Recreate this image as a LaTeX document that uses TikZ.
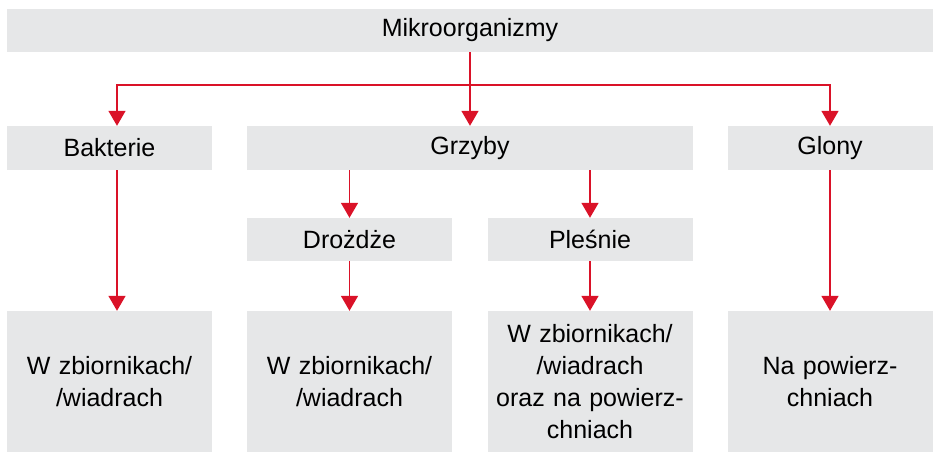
\documentclass[tikz,border=0pt]{standalone}
\usepackage{fontspec}
\setmainfont{Liberation Sans}
\usetikzlibrary{arrows.meta}
\definecolor{ArrowRed}{RGB}{218,18,40}
\definecolor{BoxGrey}{RGB}{230,231,232}
\colorlet{ColourLink}{ArrowRed}
\colorlet{ColourBox}{BoxGrey}
\tikzset{
  box/.style={
    fill=ColourBox,
    inner sep=0pt,
    align=center,
    font=\fontsize{25}{32}\selectfont,
  },
  wide box/.style={
    box,
    minimum width=926pt,
    minimum height=43pt,
  },
  mid box/.style={
    box,
    minimum width=446pt,
    minimum height=44pt,
  },
  small box/.style={
    box,
    minimum width=205pt,
    minimum height=44pt,
  },
  low box/.style={
    box,
    text width=200pt,
    minimum width=205pt,
    minimum height=141pt,
  },
  link/.style={
    draw=ColourLink,
    line width=1.6pt,
  },
  arrow link/.style={
    link,
    -{Triangle[width=17pt,length=15pt]},
  },
}

\begin{document}
\begin{tikzpicture}[x=1pt,y=-1pt]
  \useasboundingbox (0,0) rectangle (940,464);
  % first level
  \node[wide box] (mikro) at (470,30.5) {Mikroorganizmy};
  % second level
  \node[small box] (bakt) at (109.5,148) {Bakterie};
  \node[mid box] (grzyby) at (470,148) {Grzyby};
  \node[small box] (glony) at (830,148) {Glony};
  % third level
  \node[small box, minimum height=43pt] (drozdze) at (349.5,239.5) {Drożdże};
  \node[small box, minimum height=43pt] (plesnie) at (590,239.5) {Pleśnie};
  % bottom
  \node[low box] (baktdol) at (109.5,381.5) {W zbiornikach/\\/wiadrach};
  \node[low box] (drozdzedol) at (349.5,381.5) {W zbiornikach/\\/wiadrach};
  \node[low box] (plesniedol) at (590,381.5)
    {W zbiornikach/\\/wiadrach\\oraz na powierz-\\chniach};
  \node[low box] (glonydol) at (830,381.5) {Na powierz-\\chniach};
  % connectors
  \coordinate (hub) at ([yshift=-33pt]mikro.south);
  \draw[link] (mikro.south) -- (hub);
  \draw[arrow link] (hub) -| ([xshift=7.5pt]bakt.north);
  \draw[arrow link] (hub) -- (grzyby.north);
  \draw[arrow link] (hub) -| (glony.north);
  \draw[arrow link] (drozdze.north |- grzyby.south) -- (drozdze.north);
  \draw[arrow link] (plesnie.north |- grzyby.south) -- (plesnie.north);
  \draw[arrow link] ([xshift=7.5pt]bakt.south) -- ([xshift=7.5pt]baktdol.north);
  \draw[arrow link] (drozdze.south) -- (drozdzedol.north);
  \draw[arrow link] (plesnie.south) -- (plesniedol.north);
  \draw[arrow link] (glony.south) -- (glonydol.north);
\end{tikzpicture}
\end{document}
